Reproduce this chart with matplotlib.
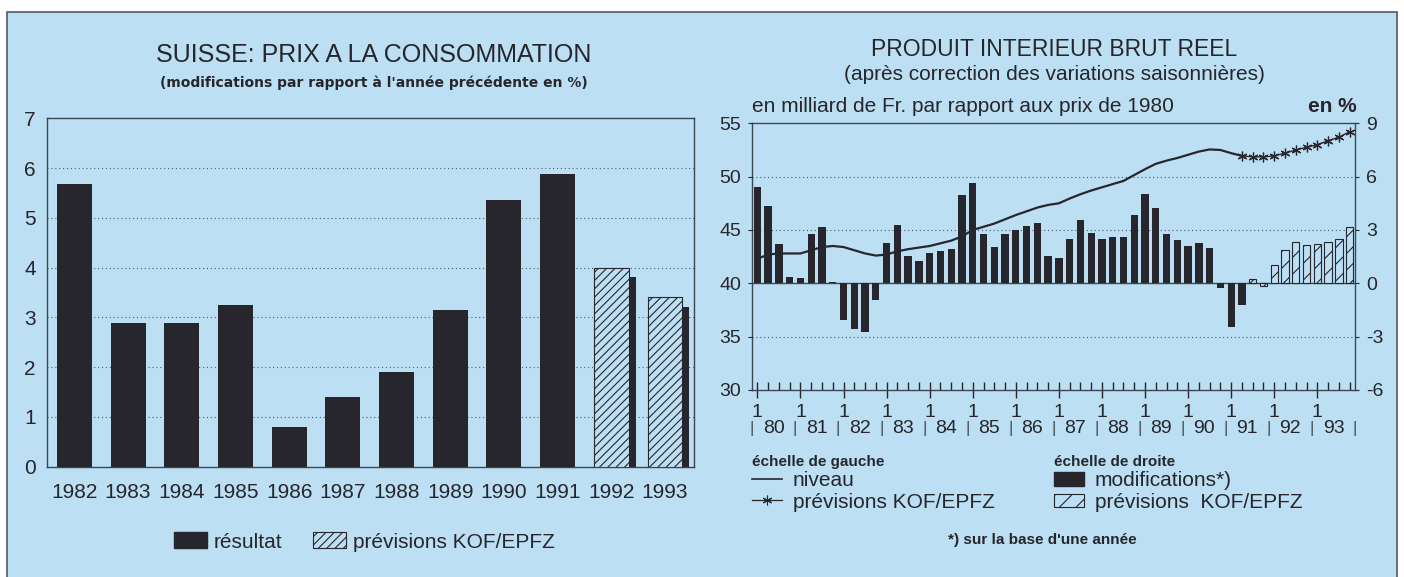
import numpy as np
import matplotlib.pyplot as plt
import matplotlib.patheffects as pe
from matplotlib.patches import Rectangle, Patch
from matplotlib.lines import Line2D

# ---------------------------------------------
# Data: consumer prices (yearly change, %)
# ---------------------------------------------
cpi_years = ["1982", "1983", "1984", "1985", "1986", "1987",
             "1988", "1989", "1990", "1991", "1992", "1993"]
cpi_result = [5.67, 2.88, 2.88, 3.24, 0.80, 1.40, 1.90, 3.15, 5.35, 5.89]
cpi_forecast = [4.0, 3.4]

# ---------------------------------------------
# Data: real GDP, quarterly 1980 Q1 .. 1993 Q4
# ---------------------------------------------
gdp_years = ["80", "81", "82", "83", "84", "85", "86",
             "87", "88", "89", "90", "91", "92", "93"]

# change vs. same quarter a year earlier (%), right scale
gdp_change_result = [
    5.44, 4.33, 2.20, 0.36,
    0.32, 2.76, 3.19, 0.10,
    -2.06, -2.57, -2.76, -0.94,
    2.25, 3.28, 1.56, 1.24,
    1.69, 1.80, 1.93, 4.95,
    5.65, 2.78, 2.05, 2.78,
    2.98, 3.20, 3.38, 1.52,
    1.43, 2.50, 3.56, 2.85,
    2.51, 2.63, 2.63, 3.83,
    5.03, 4.24, 2.76, 2.46,
    2.12, 2.27, 1.99, -0.28,
    -2.48, -1.22,
]
gdp_change_forecast = [0.24, -0.15, 1.03, 1.90, 2.31, 2.14, 2.21, 2.31, 2.50, 3.15]

# level in billion Fr. at 1980 prices, left scale
gdp_level = [
    42.3, 42.7, 42.8, 42.8,
    42.8, 43.1, 43.4, 43.5,
    43.4, 43.1, 42.8, 42.6,
    42.7, 43.0, 43.2, 43.35,
    43.5, 43.75, 44.0, 44.4,
    45.0, 45.3, 45.6, 46.0,
    46.4, 46.75, 47.1, 47.35,
    47.5, 47.95, 48.35, 48.7,
    49.0, 49.3, 49.6, 50.15,
    50.7, 51.2, 51.5, 51.75,
    52.05, 52.35, 52.55, 52.5,
    52.2, 51.95,
]
gdp_level_forecast = [51.95, 51.85, 51.85, 51.95, 52.2, 52.5,
                      52.75, 53.0, 53.35, 53.7, 54.2]

# ---------------------------------------------
# Style
# ---------------------------------------------
BG = "#bcdff3"
DARK = "#26262c"
GRID = "#4d5d6d"
SPINE = "#3a4652"
SANS = ["Liberation Sans", "DejaVu Sans"]

plt.rcParams["hatch.linewidth"] = 0.8
plt.rcParams["font.family"] = SANS
plt.rcParams["axes.unicode_minus"] = False

W, H = 1404, 577
fig = plt.figure(figsize=(W / 100, H / 100), dpi=100, facecolor="white")

# outer frame (behind the axes)
fig.patches.append(Rectangle((7 / W, -0.01), 1390 / W, 1.01 - 12 / H,
                             transform=fig.transFigure, facecolor=BG,
                             edgecolor="#55585c", lw=1.2, zorder=-5))


def px(x, y):
    return x / W, 1 - y / H


# ---------------------------------------------
# Left chart
# ---------------------------------------------
ax1 = fig.add_axes([47 / W, 1 - 466.7 / H, 647 / W, 348.4 / H])
ax1.set_facecolor("none")
x = np.arange(len(cpi_years))
n_res = len(cpi_result)

ax1.bar(x[:n_res], cpi_result, width=0.65, color=DARK, zorder=3)
fc_bars = ax1.bar(x[n_res:], cpi_forecast, width=0.65, facecolor=BG,
                  edgecolor=DARK, hatch="////", lw=0.8, zorder=3)
for b in fc_bars:
    b.set_path_effects([pe.SimplePatchShadow(offset=(5, -7), shadow_rgbFace=DARK, alpha=1),
                        pe.Normal()])

ax1.set_xlim(-0.51, 11.54)
ax1.set_ylim(0, 7)
ax1.set_yticks(range(8))
ax1.set_xticks(x)
ax1.set_xticklabels(cpi_years)
for y in range(1, 7):
    ax1.axhline(y, color=GRID, lw=0.8, ls=(0, (1, 2.5)), zorder=1)
for s in ax1.spines.values():
    s.set_color(SPINE)
    s.set_linewidth(1.0)
ax1.tick_params(axis="both", length=0, labelsize=15, colors=DARK)
ax1.tick_params(axis="x", pad=12)
ax1.tick_params(axis="y", pad=8)

fig.text(*px(374, 55), "SUISSE: PRIX A LA CONSOMMATION", ha="center", va="center",
         fontsize=18, color=DARK)
fig.text(*px(374, 83), "(modifications par rapport à l'année précédente en %)",
         ha="center", va="center", fontsize=10, weight="bold", color=DARK,
         family=["DejaVu Sans"])

leg1 = fig.legend(
    handles=[Patch(facecolor=DARK, edgecolor=DARK),
             Patch(facecolor=BG, edgecolor=DARK, hatch="////", lw=0.8)],
    labels=["résultat", "prévisions KOF/EPFZ"],
    loc="center", bbox_to_anchor=px(364, 542), ncol=2, frameon=False,
    handlelength=1.6, handleheight=0.8, handletextpad=0.3, columnspacing=1.5,
    prop={"size": 15})
for t in leg1.get_texts():
    t.set_color(DARK)

# ---------------------------------------------
# Right chart
# ---------------------------------------------
ax2 = fig.add_axes([752 / W, 1 - 390 / H, 603 / W, 266.7 / H])
ax2.set_facecolor("none")
nq = len(gdp_change_result) + len(gdp_change_forecast)
q = np.arange(nq) + 0.5
n_gr = len(gdp_change_result)

ax2.bar(q[:n_gr], gdp_change_result, width=0.68, color=DARK, zorder=3)
ax2.bar(q[n_gr:], gdp_change_forecast, width=0.68, facecolor=BG, edgecolor=DARK,
        hatch="//", lw=0.8, zorder=3)
ax2.axhline(0, color=SPINE, lw=1.0, zorder=2)
for y in (-3, 3, 6):
    ax2.axhline(y, color=GRID, lw=0.8, ls=(0, (1, 2.5)), zorder=1)

ax2.set_xlim(0, nq)
ax2.set_ylim(-6, 9)
ax2.set_yticks([-6, -3, 0, 3, 6, 9])
ax2.set_xticks(q[::4])
ax2.set_xticklabels(["1"] * len(q[::4]))
ax2.set_xticks(q, minor=True)
ax2.tick_params(axis="x", which="major", direction="inout", length=12, width=1,
                pad=4, labelsize=14, colors=DARK)
ax2.tick_params(axis="x", which="minor", direction="in", length=6, width=1, colors=DARK)
for s in ax2.spines.values():
    s.set_color(SPINE)
    s.set_linewidth(1.0)

# level line on the left scale (twin axes drawn on top of the bars)
ax3 = ax2.twinx()
ax3.plot(q[:n_gr], gdp_level, color=DARK, lw=1.6, zorder=4)
ax3.plot(q[n_gr - 1:], gdp_level_forecast, color=DARK, lw=1.0, marker=(6, 2, 0),
         ms=7, mew=0.9, zorder=4)
ax3.set_ylim(30, 55)
ax3.set_yticks([30, 35, 40, 45, 50, 55])
ax3.yaxis.tick_left()
ax2.yaxis.tick_right()
ax2.tick_params(axis="y", length=3, labelsize=14, colors=DARK, pad=5)
ax3.tick_params(axis="y", length=3, labelsize=14, colors=DARK, pad=5)
for s in ax3.spines.values():
    s.set_visible(False)

# year labels under the quarter ticks
tr = ax2.get_xaxis_transform()
for k, yr in enumerate(gdp_years):
    ax2.text(4 * k + 2, -0.1425, yr, transform=tr, ha="center", va="center",
             fontsize=14, color=DARK)
for k in range(len(gdp_years) + 1):
    ax2.text(4 * k, -0.1425, "|", transform=tr, ha="center", va="center",
             fontsize=12, color="#4a4f58")

fig.text(*px(1054, 50), "PRODUIT INTERIEUR BRUT REEL", ha="center", va="center",
         fontsize=16.5, color=DARK)
fig.text(*px(1054, 75), "(après correction des variations saisonnières)", ha="center",
         va="center", fontsize=15, color=DARK)
fig.text(*px(752, 107), "en milliard de Fr. par rapport aux prix de 1980", ha="left",
         va="center", fontsize=15, color=DARK)
fig.text(*px(1357, 107), "en %", ha="right", va="center", fontsize=15, color=DARK,
         weight="bold")

leg_l = fig.legend(
    handles=[Line2D([], [], color=DARK, lw=1.2),
             Line2D([], [], color=DARK, lw=0.9, marker=(6, 2, 0), ms=7, mew=0.8)],
    labels=["niveau", "prévisions KOF/EPFZ"],
    title="échelle de gauche", alignment="left",
    loc="upper left", bbox_to_anchor=px(744, 447), frameon=False,
    handlelength=1.4, handletextpad=0.55, labelspacing=0.1, borderaxespad=0,
    prop={"size": 15},
    title_fontproperties={"size": 11, "weight": "bold"})
leg_r = fig.legend(
    handles=[Patch(facecolor=DARK, edgecolor=DARK),
             Patch(facecolor=BG, edgecolor=DARK, hatch="//", lw=0.8)],
    labels=["modifications*)", "prévisions  KOF/EPFZ"],
    title="échelle de droite", alignment="left",
    loc="upper left", bbox_to_anchor=px(1046, 447), frameon=False,
    handlelength=1.4, handleheight=0.6, handletextpad=0.55, labelspacing=0.1,
    borderaxespad=0,
    prop={"size": 15},
    title_fontproperties={"size": 11, "weight": "bold"})
for lg in (leg_l, leg_r):
    for t in lg.get_texts():
        t.set_color(DARK)
    lg.get_title().set_color(DARK)

fig.text(*px(1042, 540), "*) sur la base d'une année", ha="center", va="center",
         fontsize=11, color=DARK, weight="bold")

fig.savefig("out.png", dpi=100, facecolor="white")
